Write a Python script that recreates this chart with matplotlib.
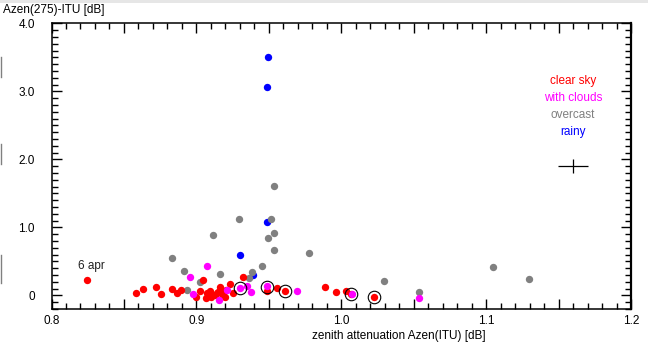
import matplotlib
matplotlib.use('Agg')
import matplotlib.pyplot as plt
from matplotlib.ticker import MultipleLocator, FuncFormatter
from matplotlib.lines import Line2D
from matplotlib.patches import Rectangle

plt.rcParams['font.family'] = ['Liberation Sans', 'DejaVu Sans']

# zenith attenuation Azen(ITU) [dB] vs Azen(275)-ITU [dB], by weather
clear_x = [0.8243, 0.8581, 0.8631, 0.8719, 0.8756, 0.8830, 0.8864, 0.8894, 0.8997,
           0.9025, 0.9049, 0.9064, 0.9073, 0.9094, 0.9101, 0.9128, 0.9140, 0.9151,
           0.9163, 0.9175, 0.9186, 0.9197, 0.9204, 0.9232, 0.9255, 0.9320, 0.9487,
           0.9554, 0.9611, 0.9885, 0.9961, 1.0032, 1.0067, 1.0226]
clear_y = [0.225, 0.038, 0.097, 0.126, 0.022, 0.093, 0.041, 0.074, -0.018,
           0.063, 0.225, -0.044, 0.029, 0.071, -0.021, 0.004, 0.029, 0.053,
           0.126, 0.029, -0.003, -0.025, 0.078, 0.169, 0.029, 0.274, 0.068,
           0.112, 0.060, 0.126, 0.053, 0.068, 0.019, -0.021]

clouds_x = [0.8956, 0.9071, 0.8979, 0.9154, 0.9213, 0.9301, 0.9347, 0.9377, 0.9485,
            0.9692, 1.0077, 1.0534]
clouds_y = [0.274, 0.426, 0.015, -0.069, 0.078, 0.107, 0.144, 0.053, 0.132,
            0.068, 0.026, -0.035]

overcast_x = [0.8830, 0.8912, 0.8933, 0.9025, 0.9118, 0.9163, 0.9292, 0.9365, 0.9384,
              0.9451, 0.9492, 0.9513, 0.9536, 0.9536, 0.9536, 0.9775, 1.0295, 1.0534,
              1.1049, 1.1297]
overcast_y = [0.553, 0.362, 0.078, 0.200, 0.891, 0.318, 1.122, 0.262, 0.347,
              0.434, 0.843, 1.122, 0.921, 0.666, 1.612, 0.626, 0.215, 0.053,
              0.421, 0.244]

rainy_x = [0.9492, 0.9485, 0.9489, 0.9301, 0.9393]
rainy_y = [3.504, 3.063, 1.074, 0.593, 0.306]

# points marked with open circles
ring_x = [0.9301, 0.9485, 0.9611, 1.0070, 1.0226]
ring_y = [0.107, 0.120, 0.060, 0.020, -0.021]

# typical error bar
err_x, err_y = 1.160, 1.905
err_dx, err_dy = 0.0104, 0.10

fig = plt.figure(figsize=(6.48, 3.46), dpi=100)
ax = fig.add_axes([51.5 / 648, 1 - 309.3 / 346, (631 - 51.5) / 648, (309.3 - 23.3) / 346])

ms = 5.3
ax.plot(rainy_x, rainy_y, 'o', color='#0000ff', ms=ms, mew=0)
ax.plot(overcast_x, overcast_y, 'o', color='#808080', ms=ms, mew=0)
ax.plot(clear_x, clear_y, 'o', color='#ff0000', ms=ms, mew=0)
ax.plot(clouds_x, clouds_y, 'o', color='#ff00ff', ms=ms, mew=0)
ax.plot(ring_x, ring_y, 'o', mfc='none', mec='black', ms=9, mew=0.8)

ax.errorbar([err_x], [err_y], xerr=[err_dx], yerr=[err_dy], fmt='none',
            ecolor='black', elinewidth=0.9, capsize=0)

ax.text(0.8273, 0.43, '6 apr', fontsize=8.5, ha='center', va='center', color='#202020')

labels = ['clear sky', 'with clouds', 'overcast', 'rainy']
colors = ['#ff0000', '#ff00ff', '#808080', '#0000ff']
for i, (lab, c) in enumerate(zip(labels, colors)):
    fig.text(573 / 648, 1 - (81 + 17 * i) / 346, lab, color=c, fontsize=8.5,
             ha='center', va='center')

ax.set_xlim(0.8, 1.2)
ax.set_ylim(-0.205, 4.0)

ax.xaxis.set_major_locator(MultipleLocator(0.05))
ax.xaxis.set_minor_locator(MultipleLocator(0.01))
ax.xaxis.set_major_formatter(FuncFormatter(
    lambda v, p: f'{v:.1f}' if abs(v * 10 - round(v * 10)) < 1e-6 else ''))
ax.yaxis.set_major_locator(MultipleLocator(1.0))
ax.yaxis.set_minor_locator(MultipleLocator(0.1))
ax.yaxis.set_major_formatter(FuncFormatter(
    lambda v, p: '0' if abs(v) < 1e-9 else f'{v:.1f}'))

ax.tick_params(which='both', direction='in', top=True, right=True, labelsize=8.5,
               width=1.0, color='black')
ax.tick_params(which='major', length=7)
ax.tick_params(which='minor', length=4)
ax.tick_params(axis='y', which='major', pad=12)
ax.tick_params(axis='x', which='major', pad=4)

for s in ax.spines.values():
    s.set_linewidth(1.1)
ax.spines['right'].set_linewidth(1.6)

fig.text(3 / 648, 1 - 9.5 / 346, 'Azen(275)-ITU [dB]', fontsize=8.5, ha='left', va='center')
fig.text(398.5 / 648, 1 - 336 / 346, 'zenith attenuation Azen(ITU) [dB]', fontsize=8.5,
         ha='center', va='center')

# window chrome: grey strip on top, small marks on the left edge
fig.add_artist(Rectangle((0, 1 - 3 / 346), 1, 3 / 346, transform=fig.transFigure,
                         color='#e6e6e6', lw=0))
for y0, y1 in [(57, 77), (144, 164), (255, 283)]:
    fig.add_artist(Line2D([0.8 / 648, 0.8 / 648], [1 - y0 / 346, 1 - y1 / 346],
                          transform=fig.transFigure, color='#808080', lw=1))

fig.savefig('out.png', dpi=100)
